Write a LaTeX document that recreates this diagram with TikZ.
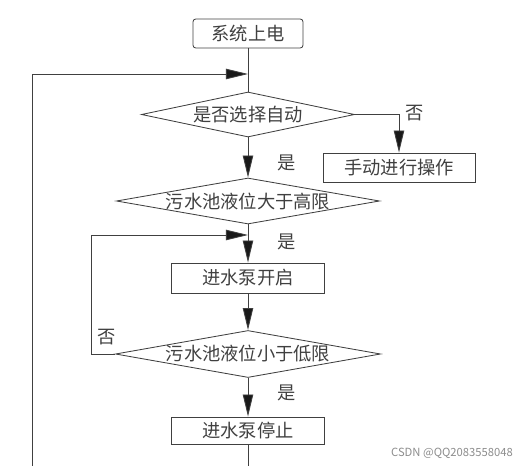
\documentclass[tikz,border=0pt]{standalone}
\usepackage{fontspec}
\setmainfont{Noto Sans CJK SC}
\usetikzlibrary{arrows.meta, shapes.geometric}

\begin{document}
\begin{tikzpicture}[
            x = 0.025cm, y = -0.025cm, % one unit is one pixel
            > = {Triangle[length=0.55cm, width=0.26cm, fill=black!90]}, % arrow head style
            semithick, % line style
            color = black!75
        ]

        \tikzstyle{every node}=[
            font = \fontsize{13}{15}\selectfont
        ]
        \tikzstyle{stepbox}=[
            draw,
            rectangle,
            inner sep = 0pt,
            minimum width = 3.825cm,
            minimum height = 0.75cm
        ]
        \tikzstyle{decision}=[
            draw,
            diamond,
            inner sep = 0pt
        ]
        \useasboundingbox (0,0) rectangle (520,466);

        \node[stepbox, rounded corners = 2pt, minimum width = 2.75cm, minimum height = 0.725cm] (power) at (248,33.5) {系统上电};
        \node[decision, minimum width = 5.325cm, minimum height = 1.125cm] (auto) at (248,114.5) {\makebox[0pt]{是否选择自动}};
        \node[stepbox, minimum width = 3.8cm, minimum height = 0.725cm] (manual) at (399,167.5) {手动进行操作};
        \node[decision, minimum width = 6.575cm, minimum height = 1.15cm] (high) at (248,201) {\makebox[0pt]{污水池液位大于高限}};
        \node[stepbox] (pumpon) at (248,278) {进水泵开启};
        \node[decision, minimum width = 6.625cm, minimum height = 1.175cm] (low) at (248,354) {\makebox[0pt]{污水池液位小于低限}};
        \node[stepbox, minimum height = 0.675cm] (pumpoff) at (248,430.5) {进水泵停止};

        \coordinate (outerjoin) at (248,74);
        \coordinate (outerend) at (32,466);
        \coordinate (innerjoin) at (248,235);
        \coordinate (bottomend) at (248,466);

        \draw (power) -- (auto);
        \draw[->] (outerend) |- (outerjoin);
        \draw[->] (auto) -- (high);
        \draw[->] (auto.east) -| (manual.north);
        \draw[->] (high) -- (pumpon);
        \draw[->] (low.west) -- ++(-24,0) |- (innerjoin);
        \draw[->] (pumpon) -- (low);
        \draw[->] (low) -- (pumpoff);
        \draw (pumpoff) -- (bottomend);

        % branch labels
        \node (no1) at (415,113) {否};
        \node (yes1) at (287,163) {是};
        \node (yes2) at (287,242) {是};
        \node (no2) at (107,337) {否};
        \node (yes3) at (287,393) {是};
        \node[anchor = east, text = black!45, font = \fontsize{8}{9}\selectfont] (mark) at (518,453) {CSDN @QQ2083558048};
    \end{tikzpicture}
\end{document}
